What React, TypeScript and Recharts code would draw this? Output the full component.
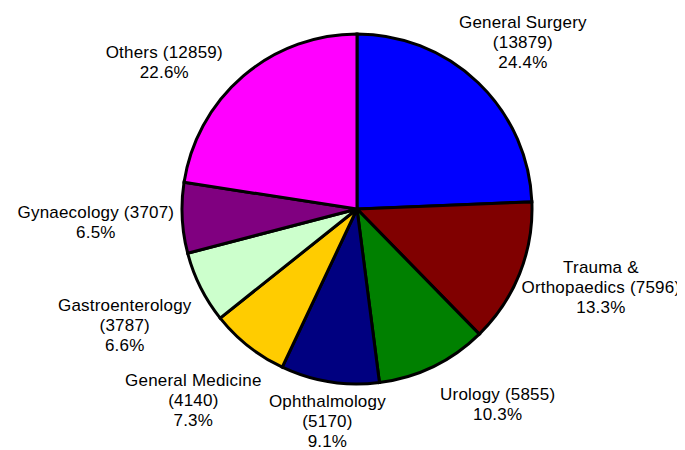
import React from "react";
import { PieChart, Pie, Cell } from "recharts";

const specialties = [
	"General Surgery",
	"Trauma & Orthopaedics",
	"Urology",
	"Ophthalmology",
	"General Medicine",
	"Gastroenterology",
	"Gynaecology",
	"Others"
];
const episodes = [13879, 7596, 5855, 5170, 4140, 3787, 3707, 12859];
const colors = [
	"#0000FF",
	"#800000",
	"#008000",
	"#000080",
	"#FFCC00",
	"#CCFFCC",
	"#800080",
	"#FF00FF"
];

// label layout: small nudges (angle in degrees, radius in px) so labels sit where the original put them
const labelNudge = [-1, 4, 10, 1, -2.3, 0, 0, 12];
const labelPush = [-10, -7, 11, -4, 5, 8, 4, 5];
const FONT_SIZE = 17;
const LINE_H = 20;
const FONT = `${FONT_SIZE}px "Liberation Sans", Arial, sans-serif`;
const WRAP_AT = 165;

const data = specialties.map((name, i) => ({ name, value: episodes[i] }));
const total = episodes.reduce((a, b) => a + b, 0);

let ctx: CanvasRenderingContext2D | null = null;
const textWidth = (s: string) => {
	if (!ctx) {
		ctx = document.createElement("canvas").getContext("2d");
		if (ctx) ctx.font = FONT;
	}
	return ctx ? ctx.measureText(s).width : s.length * FONT_SIZE * 0.55;
};

const wrap = (s: string) => {
	const words = s.split(" ");
	const lines: string[] = [];
	let cur = "";
	words.forEach((w) => {
		const next = cur ? cur + " " + w : w;
		if (cur && textWidth(next) > WRAP_AT) {
			lines.push(cur);
			cur = w;
		} else {
			cur = next;
		}
	});
	if (cur) lines.push(cur);
	return lines;
};

const renderLabel = (props: any) => {
	const { cx, cy, midAngle, outerRadius, index } = props;
	const d = data[index];
	const pct = ((d.value / total) * 100).toFixed(1) + "%";
	const lines = [...wrap(`${d.name} (${d.value})`), pct];
	const w = Math.max(...lines.map(textWidth));
	const h = lines.length * LINE_H;
	const a = ((midAngle + labelNudge[index]) * Math.PI) / 180;
	const c = Math.cos(a);
	const s = Math.sin(a);
	const ext = (w / 2) * Math.abs(c) + (h / 2) * Math.abs(s);
	const r = outerRadius + 5 + ext + labelPush[index];
	const x = cx + r * c;
	const y = cy - r * s;
	const y0 = y - ((lines.length - 1) * LINE_H) / 2 + 6;
	return (
		<text
			key={index}
			x={x}
			y={y0}
			textAnchor="middle"
			fill="#000"
			style={{ font: FONT, letterSpacing: 0.2 }}
		>
			{lines.map((l, i) => (
				<tspan key={i} x={x} y={y0 + i * LINE_H}>
					{l}
				</tspan>
			))}
		</text>
	);
};

const App = () => {
	return (
		<div style={{ width: 677, height: 442, background: "#fff" }}>
			<PieChart width={677} height={442}>
				<Pie
					data={data}
					dataKey="value"
					nameKey="name"
					cx={344}
					cy={196}
					outerRadius={175}
					startAngle={90}
					endAngle={-270}
					stroke="#000"
					strokeWidth={3}
					label={renderLabel}
					labelLine={false}
					isAnimationActive={false}
				>
					{data.map((d, i) => (
						<Cell key={d.name} fill={colors[i]} />
					))}
				</Pie>
			</PieChart>
		</div>
	);
};

export default App;
